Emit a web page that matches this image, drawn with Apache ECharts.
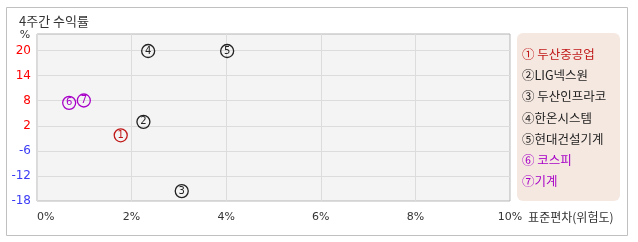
<!DOCTYPE html>
<html>
<head>
<meta charset="utf-8">
<script src="https://cdn.jsdelivr.net/npm/echarts@6/dist/echarts.min.js"></script>
<style>
html,body{margin:0;padding:0;background:#fff;}
#chart{width:638px;height:242px;}
</style>
</head>
<body>
<div id="chart"></div>
<script>
const chartTitle = '4주간 수익률';
const legendLabels = ['① 두산중공업','②LIG넥스원','③ 두산인프라코','④한온시스템','⑤현대건설기계','⑥ 코스피','⑦기계'];
const markerDigits = ['1','2','3','4','5','6','7'];
const seriesColors = ['#c01818','#222222','#222222','#222222','#222222','#a800c8','#a800c8'];
const riskX = [1.77, 2.25, 3.06, 2.35, 4.02, 0.68, 0.99];
const returnY = [-1.4, 2.0, -15.5, 19.9, 19.9, 6.8, 7.4];
const yTickLabels = ['-18','-12','-6','2','8','14','20'];
const xTickValues = [0, 2, 4, 6, 8, 10];
const xAxisName = '표준편차(위험도)';
const yAxisName = '%';

const yMin = -18, yTop = 20, yMax = 24.2;
const yStep = (yTop - yMin) / (yTickLabels.length - 1);
const yTickValues = yTickLabels.map((_, i) => yMin + i * yStep);

const FONT = '"Noto Sans CJK KR", "DejaVu Sans", sans-serif';

const chart = echarts.init(document.getElementById('chart'), null, {renderer: 'canvas'});

const series = legendLabels.map((name, i) => ({
  type: 'scatter',
  name: name,
  data: [[riskX[i], returnY[i]]],
  symbol: 'circle',
  symbolSize: 13,
  itemStyle: {color: 'rgba(0,0,0,0)', borderColor: seriesColors[i], borderWidth: 1.3, opacity: 1},
  label: {
    show: true, position: 'inside', formatter: markerDigits[i],
    color: seriesColors[i], fontSize: 10, fontFamily: 'DejaVu Sans'
  },
  emphasis: {disabled: true},
  silent: true
}));

chart.setOption({
  animation: false,
  textStyle: {fontFamily: FONT},
  graphic: [
    {type: 'rect', left: 6, top: 7, shape: {width: 621, height: 228},
     style: {fill: '#fff', stroke: '#c0c0c0', lineWidth: 1}, z: -10, silent: true},
    {type: 'rect', left: 517, top: 33, shape: {width: 103, height: 168, r: 6},
     style: {fill: '#f5e8e1'}, z: -5, silent: true}
  ],
  title: {
    text: chartTitle, left: 14, top: 10,
    textStyle: {fontSize: 13, fontWeight: 'normal', color: '#333', fontFamily: FONT}
  },
  grid: {
    left: 37, top: 34, right: 128, bottom: 41,
    show: true, backgroundColor: '#f4f4f4', borderColor: '#b4b4b4', borderWidth: 1
  },
  legend: {
    orient: 'vertical', left: 517, top: 47, icon: 'none',
    itemWidth: 0, itemHeight: 14, itemGap: 8, padding: 0,
    selectedMode: false,
    data: legendLabels.map((n, i) => ({name: n, textStyle: {color: seriesColors[i]}})),
    textStyle: {fontSize: 12.5, fontFamily: FONT}
  },
  xAxis: {
    type: 'value', min: xTickValues[0], max: xTickValues[xTickValues.length - 1], interval: 2,
    name: xAxisName, nameLocation: 'end', nameGap: 8,
    nameTextStyle: {fontSize: 12, color: '#333', verticalAlign: 'top', padding: [10, 0, 0, 0], fontFamily: FONT},
    axisLine: {show: false, onZero: false},
    axisTick: {show: false},
    splitLine: {show: true, lineStyle: {color: '#dcdcdc', width: 1}},
    axisLabel: {
      formatter: v => v + '%', color: '#333', fontSize: 11, margin: 11,
      alignMinLabel: 'left', fontFamily: 'DejaVu Sans'
    }
  },
  yAxis: {
    type: 'value', min: yMin, max: yMax,
    name: yAxisName, nameLocation: 'end', nameGap: -1,
    nameTextStyle: {fontSize: 11, color: '#333', verticalAlign: 'middle', align: 'center', padding: [0, 24, 0, 0], fontFamily: 'DejaVu Sans'},
    axisLine: {show: false, onZero: false},
    axisTick: {show: false, customValues: yTickValues},
    splitLine: {show: true, lineStyle: {color: '#dcdcdc', width: 1}},
    axisLabel: {
      customValues: yTickValues,
      formatter: v => {
        let idx = 0, best = Infinity;
        yTickValues.forEach((t, i) => { const d = Math.abs(t - v); if (d < best) { best = d; idx = i; } });
        return yTickLabels[idx];
      },
      color: v => (v >= 0 ? '#ff0000' : '#3c3cf5'),
      fontSize: 12, margin: 6, fontFamily: 'DejaVu Sans'
    }
  },
  series: series
});
</script>
</body>
</html>
